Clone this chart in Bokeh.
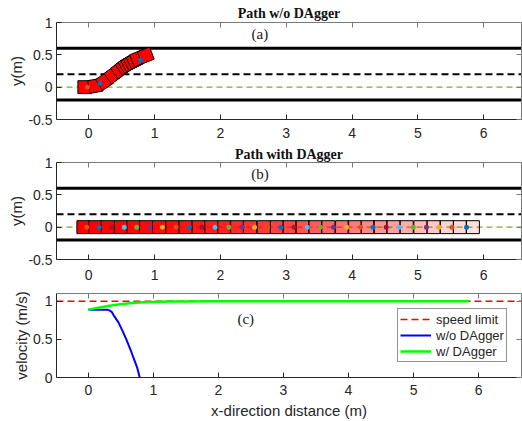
from bokeh.plotting import figure
from bokeh.models import (Range1d, FixedTicker, LinearAxis, Label, Span, Legend,
                          LegendItem, PrintfTickFormatter, ColumnDataSource)
from bokeh.layouts import column
from bokeh.embed import file_html
from bokeh.resources import INLINE

# ---------------- data ----------------
x_ticks = [0, 1, 2, 3, 4, 5, 6]
path_y_ticks = [-0.5, 0, 0.5, 1]
vel_y_ticks = [0, 0.5, 1]

lane_outer = [-0.2, 0.6]
lane_divider = 0.2
reference_path = 0.0
speed_limit = 1.0

# (a) vehicle poses without DAgger
a_car_x = [-0.065, 0.10, 0.24, 0.37, 0.47, 0.54, 0.58, 0.62, 0.66, 0.70, 0.75, 0.866]
a_car_y = [0.00, 0.02, 0.09, 0.19, 0.27, 0.32, 0.35, 0.37, 0.39, 0.41, 0.445, 0.49]
a_car_heading = [0, 10, 33, 36, 36, 33, 31, 29, 27, 25, 22, 21]
a_car_alpha = [1.0, 1.0, 1.0, 1.0, 1.0, 1.0, 1.0, 1.0, 1.0, 1.0, 1.0, 1.0]
a_mark_x = [-0.02, 0.17, 0.79]
a_mark_y = [0.0, 0.06, 0.415]
a_mark_c = ["#D95319", "#0072BD", "#0072BD"]

# (b) vehicle poses with DAgger
b_car_x = [-0.08, 0.10, 0.29, 0.49, 0.68, 0.87, 1.07, 1.27, 1.47, 1.67, 1.86,
           2.06, 2.25, 2.45, 2.66, 2.86, 3.05, 3.25, 3.44, 3.64, 3.85, 4.04,
           4.24, 4.43, 4.63, 4.83, 5.04, 5.24, 5.44, 5.64, 5.835]
b_car_y = [0.0] * 31
b_car_alpha = [1.0, 1.0, 0.99, 0.99, 0.98, 0.97, 0.96, 0.95, 0.93, 0.91, 0.89,
               0.87, 0.84, 0.81, 0.78, 0.75, 0.72, 0.68, 0.64, 0.60, 0.56, 0.52,
               0.47, 0.42, 0.37, 0.32, 0.27, 0.22, 0.18, 0.15, 0.12]
b_mark_x = [-0.03, 0.16, 0.35, 0.54, 0.73, 0.93, 1.12, 1.33, 1.53, 1.72, 1.92,
            2.13, 2.33, 2.52, 2.72, 2.92, 3.12, 3.32, 3.52, 3.72, 3.92, 4.13,
            4.32, 4.52, 4.72, 4.93, 5.13, 5.32, 5.52, 5.74]
b_mark_y = [0.0] * 30
mark_palette = ["#0072BD", "#A2142F", "#4DBEEE", "#77AC30", "#7E2F8E", "#EDB120", "#D95319"]
b_mark_c = ["#D95319"] + [mark_palette[(i - 1) % 7] for i in range(1, 30)]

# (c) velocity
v_wo_x = [0.0, 0.10, 0.20, 0.30, 0.33, 0.36, 0.40, 0.46, 0.52, 0.59, 0.65, 0.70, 0.75, 0.79]
v_wo_y = [0.887, 0.887, 0.887, 0.886, 0.876, 0.857, 0.80, 0.725, 0.62, 0.485, 0.36, 0.245, 0.13, 0.0]
v_w_x = [0.0, 0.10, 0.20, 0.30, 0.46, 0.60, 0.72, 0.85, 0.97, 1.10, 1.25, 1.50, 2.0, 3.0, 4.0, 5.0, 5.85]
v_w_y = [0.887, 0.905, 0.92, 0.935, 0.957, 0.97, 0.979, 0.986, 0.990, 0.993, 0.995, 0.996,
         0.997, 0.997, 0.997, 0.997, 0.997]

# ---------------- style ----------------
SANS = "Liberation Sans"
SERIF = "Liberation Serif"
AX = "#262626"
W = 522
CAR = 0.2


def make_fig(h, top, bottom, left, xr, y0, y1, yticks, label_standoff, title=None, tstand=4):
    p = figure(width=W, height=h, x_range=Range1d(*xr), y_range=Range1d(y0, y1),
               output_backend="svg", toolbar_location=None, title=title,
               min_border_left=left, min_border_right=1, min_border_top=top,
               min_border_bottom=bottom)
    p.outline_line_color = None
    p.grid.visible = False
    p.background_fill_color = "white"
    p.border_fill_color = "white"
    xa = p.below[0]
    ya = p.left[0]
    xa.ticker = FixedTicker(ticks=x_ticks)
    ya.ticker = FixedTicker(ticks=yticks)
    ya.formatter = PrintfTickFormatter(format="%g")
    for ax in (xa, ya):
        ax.major_tick_in = 5
        ax.major_tick_out = 0
        ax.minor_tick_line_color = None
        ax.axis_line_color = AX
        ax.major_tick_line_color = AX
        ax.major_label_text_font = SANS
        ax.major_label_text_font_size = "14px"
        ax.major_label_text_color = AX
        ax.axis_label_text_font = SANS
        ax.axis_label_text_font_size = "15px"
        ax.axis_label_text_font_style = "normal"
        ax.axis_label_text_color = AX
    xa.major_label_standoff = label_standoff
    ya.major_label_standoff = 4
    ya.axis_label_standoff = 0
    for place, ticks in (("above", x_ticks), ("right", yticks)):
        ax = LinearAxis(ticker=FixedTicker(ticks=ticks),
                        major_label_text_font_size="1px", major_label_text_color=None,
                        major_label_standoff=0,
                        major_tick_in=5, major_tick_out=0,
                        minor_tick_line_color=None,
                        axis_line_color="#7a7a7a", major_tick_line_color="#7a7a7a")
        p.add_layout(ax, place)
    if title is not None:
        p.title.text_font = SERIF
        p.title.text_font_style = "bold"
        p.title.text_font_size = "14px"
        p.title.text_color = "#111111"
        p.title.align = "center"
        p.title.standoff = tstand
    return p, xa, ya


def lanes(p):
    for yv in lane_outer:
        p.add_layout(Span(location=yv, dimension="width", line_color="black",
                          line_width=3, level="underlay"))
    p.add_layout(Span(location=lane_divider, dimension="width", line_color="black",
                      line_width=2, line_dash="7 4", level="underlay"))
    p.add_layout(Span(location=reference_path, dimension="width", line_color="#77AC30",
                      line_width=1.3, line_dash="6 4", level="underlay"))


def tag(p, text, x, y):
    p.add_layout(Label(x=x, y=y, text=text, text_font=SERIF, text_font_size="15px",
                       text_align="center", text_baseline="middle", text_color="#1a1a1a"))


XR_AB = (-0.49, 6.575)
XR_C = (-0.49, 6.66)

# ----- (a) -----
pa, xa_a, ya_a = make_fig(143, 22, 24, 56, XR_AB, -0.5, 1.0, path_y_ticks, 8,
                          title="Path w/o DAgger", tstand=4)
ya_a.axis_label = "y(m)"
lanes(pa)
src_a = ColumnDataSource(dict(x=a_car_x, y=a_car_y, ang=a_car_heading, al=a_car_alpha))
pa.rect(x="x", y="y", width=CAR, height=CAR, angle="ang", angle_units="deg", source=src_a,
        fill_color="#ff0000", fill_alpha="al", line_color="black", line_width=1)
pa.scatter(x=a_mark_x, y=a_mark_y, size=5, marker="circle", fill_color=a_mark_c, line_color=None)
tag(pa, "(a)", 2.6, 0.825)

# ----- (b) -----
pb, xa_b, ya_b = make_fig(142, 19, 26, 56, XR_AB, -0.5, 1.0, path_y_ticks, 10,
                          title="Path with DAgger", tstand=2)
ya_b.axis_label = "y(m)"
lanes(pb)
src_b = ColumnDataSource(dict(x=b_car_x, y=b_car_y, al=b_car_alpha))
pb.rect(x="x", y="y", width=CAR, height=CAR, source=src_b,
        fill_color="#ff0000", fill_alpha="al", line_color="black", line_width=1)
pb.scatter(x=b_mark_x, y=b_mark_y, size=5, marker="circle", fill_color=b_mark_c, line_color=None)
tag(pb, "(b)", 2.6, 0.825)

# ----- (c) -----
pc, xa_c, ya_c = make_fig(136, 8, 44, 55, XR_C, 0.0, 1.1, vel_y_ticks, 7)
ya_c.axis_label = "velocity (m/s)"
xa_c.axis_label = "x-direction distance (m)"
xa_c.axis_label_standoff = 4
r_lim = pc.line(x=list(XR_C), y=[speed_limit, speed_limit], line_color="red",
                line_alpha=1.0, line_width=1.5, line_dash="7 4")
r_wo = pc.line(x=v_wo_x, y=v_wo_y, line_color="#0000ff", line_width=2)
r_w = pc.line(x=v_w_x, y=v_w_y, line_color="#00ff00", line_width=2.5)
tag(pc, "(c)", 2.42, 0.77)
legend = Legend(items=[LegendItem(label="speed limit", renderers=[r_lim]),
                       LegendItem(label="w/o DAgger", renderers=[r_wo]),
                       LegendItem(label="w/ DAgger", renderers=[r_w])],
                location=(341, 15), margin=0, padding=2, spacing=0,
                label_height=16, glyph_height=16, glyph_width=31, label_standoff=5,
                label_text_font=SANS, label_text_font_size="13px", label_text_color=AX,
                border_line_color=AX, border_line_width=1,
                background_fill_color="white", background_fill_alpha=1.0)
pc.add_layout(legend)

layout = column(pa, pb, pc, spacing=0)
open("out.html", "w").write(file_html(layout, INLINE))
